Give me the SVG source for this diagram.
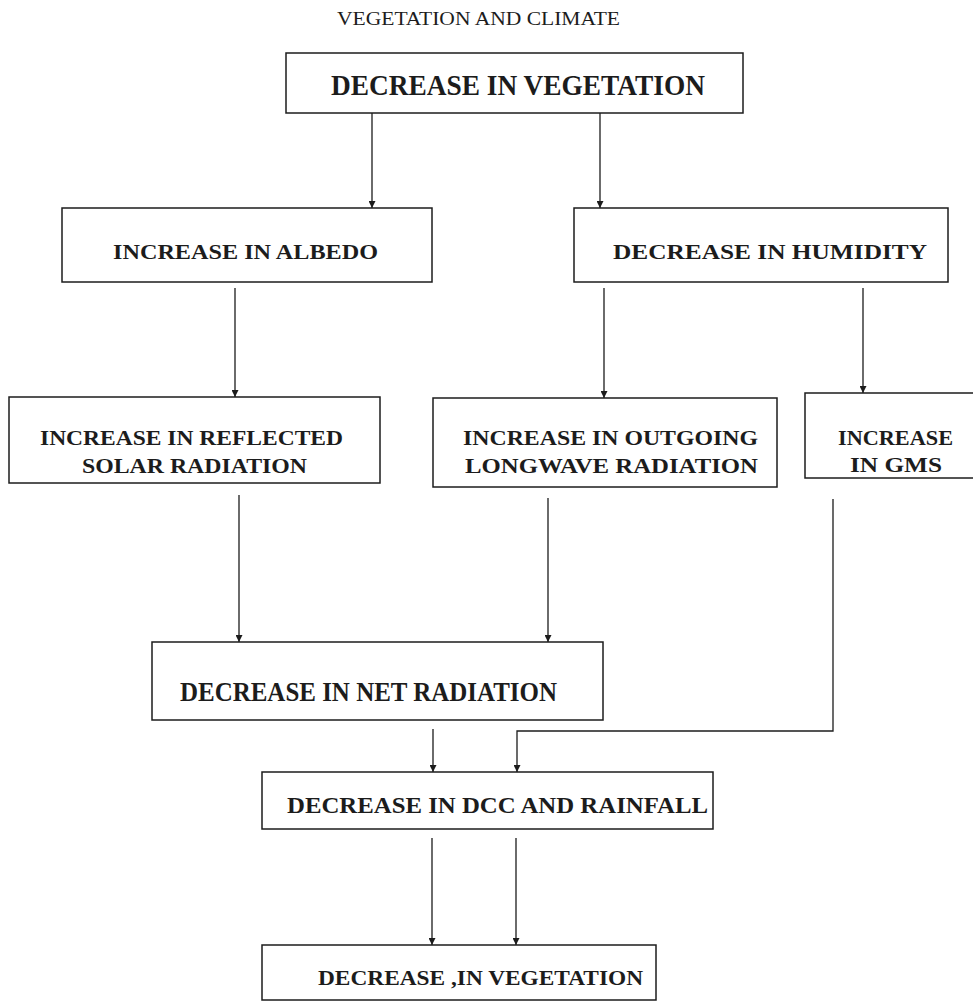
<svg xmlns="http://www.w3.org/2000/svg" width="973" height="1002" viewBox="0 0 973 1002">
<defs>
<style>
.box{fill:none;stroke:#1c1c1c;stroke-width:1.5}
.ln{fill:none;stroke:#1c1c1c;stroke-width:1.3;marker-end:url(#ah)}
.t{font-family:"Liberation Serif","Times New Roman",serif;font-weight:bold;fill:#1c1c1c}
.title{font-family:"Liberation Serif","Times New Roman",serif;fill:#1c1c1c}
</style>
<marker id="ah" viewBox="0 0 10 10" refX="10" refY="5" markerWidth="8" markerHeight="7" markerUnits="userSpaceOnUse" orient="auto">
<path d="M0,0 L10,5 L0,10 z" fill="#1c1c1c"/>
</marker>
</defs>
<rect width="973" height="1002" fill="#ffffff"/>
<text class="title" x="337" y="25" font-size="19" textLength="283" lengthAdjust="spacingAndGlyphs">VEGETATION AND CLIMATE</text>

<g id="connectors">
<path class="ln" d="M372,113 V208"/>
<path class="ln" d="M600,113 V208"/>
<path class="ln" d="M235,288 V397"/>
<path class="ln" d="M604,288 V398"/>
<path class="ln" d="M863,288 V393"/>
<path class="ln" d="M239,495 V642"/>
<path class="ln" d="M548,498 V642"/>
<path class="ln" d="M433,729 V772"/>
<path class="ln" d="M833,499 V731 H517 V772"/>
<path class="ln" d="M432,838 V945"/>
<path class="ln" d="M516,838 V945"/>
</g>

<g id="n_top">
<rect class="box" x="286" y="53" width="457" height="60"/>
<text class="t" x="331" y="95" font-size="29" textLength="374" lengthAdjust="spacingAndGlyphs">DECREASE IN VEGETATION</text>
</g>
<g id="n_albedo">
<rect class="box" x="62" y="208" width="370" height="74"/>
<text class="t" x="113" y="259" font-size="21" textLength="265" lengthAdjust="spacingAndGlyphs">INCREASE IN ALBEDO</text>
</g>
<g id="n_humidity">
<rect class="box" x="574" y="208" width="374" height="74"/>
<text class="t" x="613" y="259" font-size="21" textLength="314" lengthAdjust="spacingAndGlyphs">DECREASE IN HUMIDITY</text>
</g>
<g id="n_reflected">
<rect class="box" x="9" y="397" width="371" height="86"/>
<text class="t" x="40" y="445" font-size="22" textLength="303" lengthAdjust="spacingAndGlyphs">INCREASE IN REFLECTED</text>
<text class="t" x="82" y="473" font-size="22" textLength="225" lengthAdjust="spacingAndGlyphs">SOLAR RADIATION</text>
</g>
<g id="n_outgoing">
<rect class="box" x="433" y="398" width="344" height="89"/>
<text class="t" x="463" y="445" font-size="22" textLength="295" lengthAdjust="spacingAndGlyphs">INCREASE IN OUTGOING</text>
<text class="t" x="465" y="473" font-size="22" textLength="293" lengthAdjust="spacingAndGlyphs">LONGWAVE RADIATION</text>
</g>
<g id="n_gms">
<rect class="box" x="805" y="393" width="172" height="85"/>
<text class="t" x="838" y="445" font-size="22" textLength="115" lengthAdjust="spacingAndGlyphs">INCREASE</text>
<text class="t" x="850" y="472" font-size="22" textLength="92" lengthAdjust="spacingAndGlyphs">IN GMS</text>
</g>
<g id="n_net">
<rect class="box" x="152" y="642" width="451" height="78"/>
<text class="t" x="180" y="701" font-size="27" textLength="377" lengthAdjust="spacingAndGlyphs">DECREASE IN NET RADIATION</text>
</g>
<g id="n_dcc">
<rect class="box" x="262" y="772" width="451" height="57"/>
<text class="t" x="287" y="813" font-size="23" textLength="421" lengthAdjust="spacingAndGlyphs">DECREASE IN DCC AND RAINFALL</text>
</g>
<g id="n_bottom">
<rect class="box" x="262" y="945" width="394" height="55"/>
<text class="t" x="318" y="985" font-size="22" textLength="325" lengthAdjust="spacingAndGlyphs">DECREASE ,IN VEGETATION</text>
</g>
</svg>
